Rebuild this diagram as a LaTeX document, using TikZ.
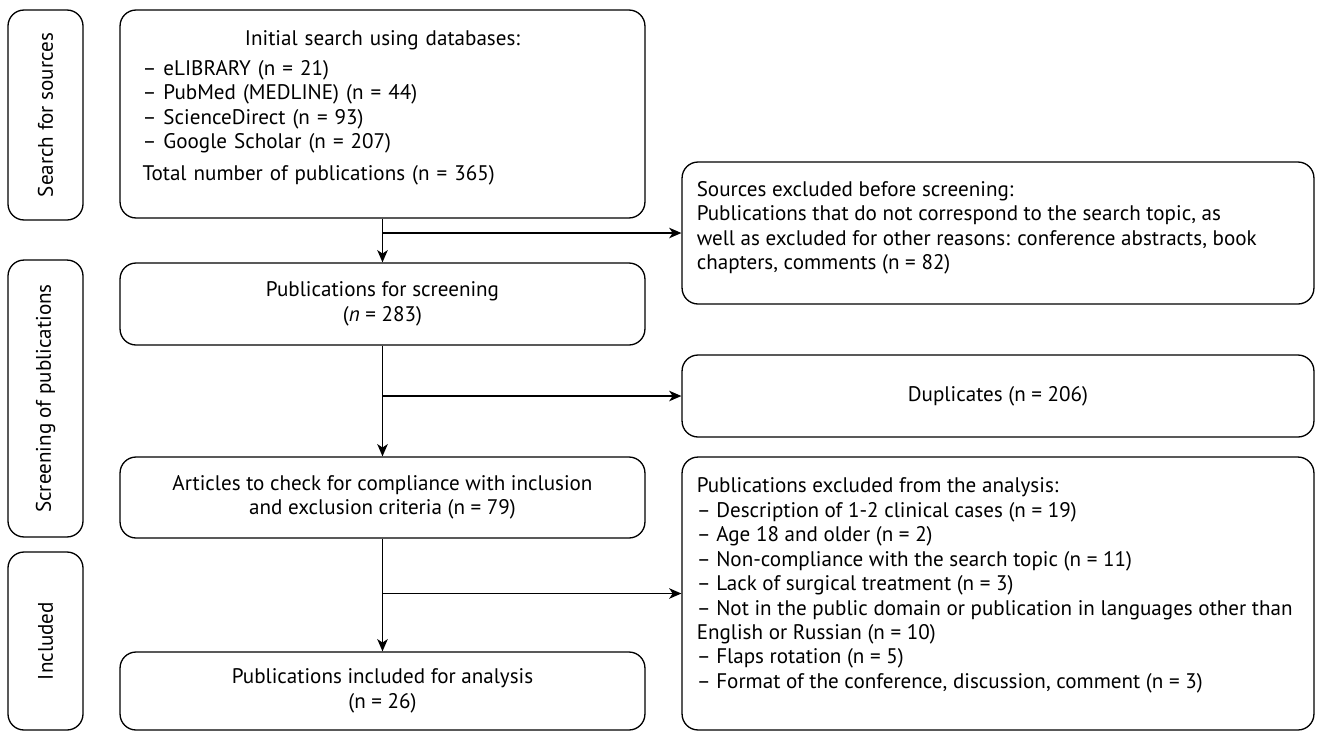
\documentclass[tikz,border=0pt]{standalone}
\usepackage{fontspec}
\setmainfont{PT Sans}
\usetikzlibrary{arrows.meta}
\begin{document}
\begin{tikzpicture}[
  x=0.02cm, y=-0.02cm,
  every node/.style = {font=\fontsize{12}{13.9}\selectfont, inner sep=0pt},
  box/.style = {shape=rectangle, rounded corners=0.32cm, draw, line width=0.75pt},
  stage/.style = {box, rotate=90, minimum height=1.5cm, align=center},
  mainbox/.style = {box, minimum width=10.5cm, align=center},
  exclbox/.style = {box, minimum width=12.64cm},
  arrow/.style = {line width=0.75pt, -{Stealth[length=7pt, width=6pt, inset=2pt]}}
  ]
  \useasboundingbox (0,0) rectangle (1317,731);
  % stages on the left
  \node[stage, minimum width=4.2cm]  (stsearch) at (45.5,115)   {Search for sources};
  \node[stage, minimum width=5.54cm] (stscreen) at (45.5,398.5) {Screening of publications};
  \node[stage, minimum width=3.56cm] (stincl)   at (45.5,641)   {Included};
  % main column
  \node[mainbox, minimum height=4.16cm] (search) at (382.5,114) {};
  \node[anchor=north, text width=9.6cm, align=left] (searchtxt) at ([yshift=-0.42cm]search.north)
    {\makebox[9.6cm]{Initial search using databases:}\\[3pt]
     – eLIBRARY (n = 21)\\
     – PubMed (MEDLINE) (n = 44)\\
     – ScienceDirect (n = 93)\\
     – Google Scholar (n = 207)\\[4pt]
     Total number of publications (n = 365)};
  \node[mainbox, minimum height=1.64cm] (screen) at (382.5,304)
    {Publications for screening\\(\textit{n} = 283)};
  \node[mainbox, minimum height=1.62cm] (check) at (382.5,497.5)
    {Articles to check for compliance with inclusion\\and exclusion criteria (n = 79)};
  \node[mainbox, minimum height=1.56cm] (incl) at (382.5,691)
    {Publications included for analysis\\(n = 26)};
  % exclusions on the right
  \node[exclbox, minimum height=2.84cm] (before) at (998,233) {};
  \node[anchor=west, align=left] (beforetxt) at ([xshift=0.3cm, yshift=0.1cm]before.west)
    {Sources excluded before screening:\\
     Publications that do not correspond to the search topic, as\\
     well as excluded for other reasons: conference abstracts, book\\
     chapters, comments (n = 82)};
  \node[exclbox, minimum height=1.64cm] (dupl) at (998,396)
    {Duplicates (n = 206)};
  \node[exclbox, minimum height=5.46cm] (excl) at (998,593.5) {};
  \node[anchor=west, align=left] (excltxt) at ([xshift=0.3cm, yshift=0.16cm]excl.west)
    {Publications excluded from the analysis:\\
     – Description of 1-2 clinical cases (n = 19)\\
     – Age 18 and older (n = 2)\\
     – Non-compliance with the search topic (n = 11)\\
     – Lack of surgical treatment (n = 3)\\
     – Not in the public domain or publication in languages other than\\
     English or Russian (n = 10)\\
     – Flaps rotation (n = 5)\\
     – Format of the conference, discussion, comment (n = 3)};
  % arrows
  \draw[arrow] (search.south) -- (screen.north);
  \draw[arrow] (search.south |- before.west) -- (before.west);
  \draw[arrow] (screen.south) -- (check.north);
  \draw[arrow] (screen.south |- dupl.west) -- (dupl.west);
  \draw[arrow] (check.south) -- (incl.north);
  \draw[arrow] (check.south |- excl.west) -- (excl.west);
\end{tikzpicture}
\end{document}
